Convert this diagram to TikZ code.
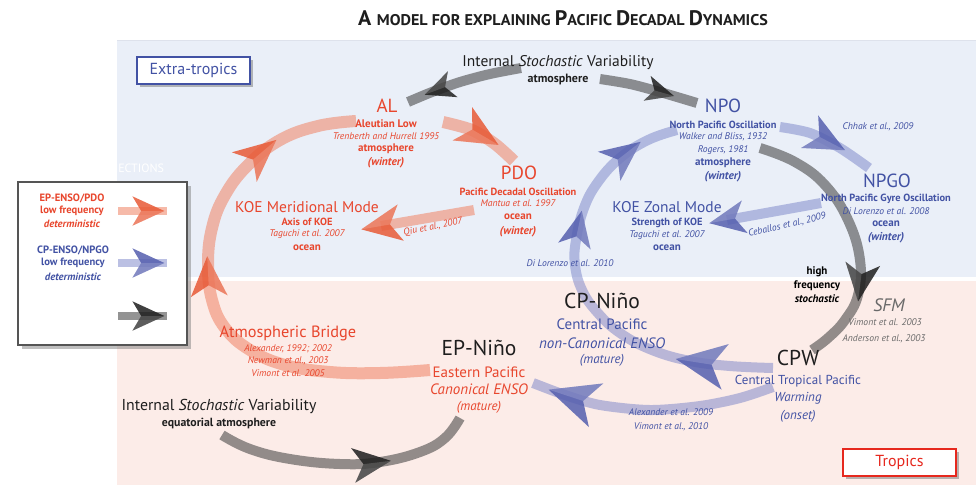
\documentclass[tikz,border=0pt]{standalone}
\usepackage{fontspec}
\setmainfont{PT Sans}
\usetikzlibrary{decorations.markings,shadows}
\newcommand{\fsz}[1]{\fontsize{#1}{#1}\selectfont}
\definecolor{etbg}{RGB}{234,239,248}
\definecolor{trbg}{RGB}{252,236,232}
\definecolor{redt}{RGB}{232,70,45}
\definecolor{bluet}{RGB}{66,82,164}
\definecolor{darkt}{RGB}{30,30,30}
\definecolor{grayt}{RGB}{105,105,105}
\definecolor{redarcc}{RGB}{240,130,100}
\definecolor{reddart}{RGB}{232,90,55}
\definecolor{bluearcc}{RGB}{120,130,200}
\definecolor{bluedart}{RGB}{85,95,175}
\definecolor{grayarcc}{RGB}{60,60,60}
\definecolor{graydart}{RGB}{30,30,30}
\tikzset{
  lbl/.style={inner sep=0pt, outer sep=0pt, anchor=center, align=center},
  rhead/.style={lbl, text=redt, font=\fsz{19}},
  bhead/.style={lbl, text=bluet, font=\fsz{19}},
  khead/.style={lbl, text=darkt, font=\fsz{21.5}},
  rsub/.style={lbl, text=redt, font=\fsz{10.4}\bfseries},
  bsub/.style={lbl, text=bluet, font=\fsz{10.4}\bfseries},
  rmed/.style={lbl, text=redt, font=\fsz{11}\bfseries},
  bmed/.style={lbl, text=bluet, font=\fsz{11}\bfseries},
  rref/.style={lbl, text=redt, font=\fsz{9.6}\itshape},
  bref/.style={lbl, text=bluet, font=\fsz{9.6}\itshape},
  gref/.style={lbl, text=grayt, font=\fsz{9.6}\itshape},
  rseas/.style={lbl, text=redt, font=\fsz{11.4}\bfseries\itshape},
  bseas/.style={lbl, text=bluet, font=\fsz{11.4}\bfseries\itshape},
  arcred/.style={draw=redarcc, draw opacity=0.55, line width=12pt},
  arcblue/.style={draw=bluearcc, draw opacity=0.5, line width=10pt},
  arcgray/.style={draw=grayarcc, draw opacity=0.55, line width=10pt},
  dart/.style n args={4}{postaction={decorate,decoration={markings,
     mark=at position #1 with {\fill[#2,fill opacity=0.85,scale=#3] (1,0)--(-1,0.92)--(-0.45,0)--(-1,-0.92)--cycle;
       \fill[white,fill opacity=0.16,scale=#3] (1,0)--(-1,0.92)--(-0.45,0)--cycle;}}}},
  tagbox/.style={lbl, fill=white, line width=2pt, minimum width=113pt, minimum height=27pt,
     drop shadow={shadow xshift=3pt, shadow yshift=-3pt, opacity=0.55}},
}
\begin{document}
\begin{tikzpicture}[x=1pt,y=-1pt]
\useasboundingbox (0,0) rectangle (979,485);
\fill[white] (0,0) rectangle (979,485);
% regions
\fill[etbg] (117,40) rectangle (976,277);
\draw[draw={rgb,255:red,222;green,226;blue,236}, line width=0.8pt] (117,40) -- (976,40);
\fill[trbg] (117,281) rectangle (976,485);
% title
\node[lbl, font=\bfseries, text=darkt] (title) at (563,18) {\scalebox{1.04}[1]{\fsz{21}A \fsz{15.5}MODEL FOR EXPLAINING \fsz{21}P\fsz{15.5}ACIFIC \fsz{21}D\fsz{15.5}ECADAL \fsz{21}D\fsz{15.5}YNAMICS}};
% faded header text behind legend
\node[lbl, anchor=east, text=white, font=\fsz{12}] (conn) at (164,168) {CONNECTIONS};

% ---------- arcs ----------
% red main loop: EP-Nino -> Atmospheric Bridge -> KOE -> AL
\coordinate (rl0) at (430,370);
\coordinate (rl1) at (356,121);
\draw[arcred, dart={0.53}{reddart}{20}{}, dart={0.80}{reddart}{21}{}]
  plot[smooth, tension=0.7] coordinates {(rl0) (380,373) (330,372) (285,365) (250,350) (225,328) (212,300) (208,265) (212,228) (225,195) (248,165) (280,140) (318,126) (rl1)};
% red AL -> PDO
\coordinate (rp0) at (443,122);
\coordinate (rp1) at (514,161);
\draw[arcred, dart={0.48}{reddart}{21}{}] plot[smooth] coordinates {(rp0) (472,130) (495,144) (rp1)};
% red PDO -> KOE meridional
\coordinate (rk0) at (474,210);
\coordinate (rk1) at (381,226);
\draw[arcred, line width=10pt, dart={1}{reddart}{20}{}] (rk0) -- (rk1);

% blue loop: CPW -> CP-Nino -> NPO
\coordinate (bl0) at (773,368);
\coordinate (bl1) at (677,130);
\draw[arcblue, dart={0.17}{bluedart}{25}{}, dart={0.655}{bluedart}{18}{}, dart={0.865}{bluedart}{20}{}]
  plot[smooth, tension=0.7] coordinates {(bl0) (730,366) (690,361) (652,350) (620,333) (597,312) (582,290) (575,265) (576,240) (584,208) (598,182) (620,158) (648,140) (bl1)};
% blue CPW -> EP-Nino
\coordinate (bb0) at (773,387);
\coordinate (bb1) at (533,383);
\draw[arcblue, dart={0.83}{bluedart}{25}{}] plot[smooth] coordinates {(bb0) (740,398) (700,406) (650,410) (600,405) (565,395) (bb1)};
% blue NPO -> NPGO
\coordinate (bn0) at (780,127);
\coordinate (bn1) at (869,168);
\draw[arcblue, dart={0.5}{bluedart}{20}{}] plot[smooth] coordinates {(bn0) (810,133) (840,148) (bn1)};
% blue NPGO -> KOE zonal
\coordinate (bz0) at (821,203);
\coordinate (bz1) at (727,220);
\draw[arcblue, dart={1}{bluedart}{18}{}] (bz0) -- (bz1);

% gray top: stochastic atmosphere -> AL and -> NPO
\coordinate (gl0) at (521,68);
\coordinate (gl1) at (408,102);
\draw[arcgray, dart={0.72}{graydart}{15}{}] plot[smooth] coordinates {(gl0) (490,74) (460,82) (432,92) (gl1)};
\coordinate (gr0) at (600,79);
\coordinate (gr1) at (697,103);
\draw[arcgray, dart={0.62}{graydart}{14}{}] plot[smooth] coordinates {(gr0) (630,84) (660,92) (gr1)};
% gray NPO -> SFM -> CPW
\coordinate (gs0) at (760,148);
\coordinate (gs1) at (812,350);
\draw[arcgray, dart={0.68}{graydart}{19}{}] plot[smooth, tension=0.7] coordinates {(gs0) (795,162) (825,185) (848,220) (860,260) (858,295) (845,320) (828,338) (gs1)};
% gray bottom: equatorial stochastic -> EP-Nino
\coordinate (gb0) at (222,435);
\coordinate (gb1) at (460,418);
\draw[arcgray, dart={0.6}{graydart}{19}{}] plot[smooth, tension=0.7] coordinates {(gb0) (250,449) (290,459) (340,464) (380,462) (420,452) (445,438) (gb1)};

% ---------- text ----------
% AL
\node[rhead] (al) at (387,106) {AL};
\node[rmed] (al1) at (386,124) {Aleutian Low};
\node[rref] (al2) at (386,136) {Trenberth and Hurrell 1995};
\node[rmed] (al3) at (386,149) {atmosphere};
\node[rseas] (al4) at (386,163) {(winter)};
% PDO
\node[rhead] (pdo) at (519,173) {PDO};
\node[rsub] (pdo1) at (518,192) {Pacific Decadal Oscillation};
\node[rref] (pdo2) at (518,203) {Mantua et al. 1997};
\node[rmed] (pdo3) at (518,217) {ocean};
\node[rseas] (pdo4) at (518,232) {(winter)};
% KOE meridional
\node[lbl, text=redt, font=\fsz{15.5}] (koem) at (307,207) {KOE Meridional Mode};
\node[rsub] (koem1) at (307,222) {Axis of KOE};
\node[rref] (koem2) at (307,234) {Taguchi et al. 2007};
\node[rmed] (koem3) at (307,248) {ocean};
\node[rref, rotate=12] (qiu) at (433,227) {Qiu et al., 2007};
% NPO
\node[bhead] (npo) at (723,106) {NPO};
\node[bsub] (npo1) at (723,125) {North Pacific Oscillation};
\node[bref] (npo2) at (723,137) {Walker and Bliss, 1932};
\node[bref] (npo3) at (723,150) {Rogers, 1981};
\node[bmed] (npo4) at (723,163) {atmosphere};
\node[bseas] (npo5) at (723,177) {(winter)};
\node[bref] (chhak) at (878,127) {Chhak et al., 2009};
% NPGO
\node[bhead] (npgo) at (887,181) {NPGO};
\node[bsub] (npgo1) at (886,199) {North Pacific Gyre Oscillation};
\node[bref] (npgo2) at (886,211) {Di Lorenzo et al. 2008};
\node[bmed] (npgo3) at (886,224) {ocean};
\node[bseas] (npgo4) at (886,238) {(winter)};
% KOE zonal
\node[lbl, text=bluet, font=\fsz{15.5}] (koez) at (667,207) {KOE Zonal Mode};
\node[bsub] (koez1) at (667,223) {Strength of KOE};
\node[bref] (koez2) at (667,235) {Taguchi et al. 2007};
\node[bmed] (koez3) at (667,248) {ocean};
\node[bref, rotate=13] (ceb) at (787,225) {Ceballos et al., 2009};
\node[bref] (dil) at (570,263) {Di Lorenzo et al. 2010};
% internal stochastic top
\node[lbl, text=darkt, font=\fsz{15.5}] (isv) at (558,63) {Internal \textit{Stochastic} Variability};
\node[lbl, text=darkt, font=\fsz{12}\bfseries] (isv1) at (558,79) {atmosphere};
% high frequency
\node[lbl, text=black, font=\fsz{11}\bfseries] (hf1) at (817,272) {high};
\node[lbl, text=black, font=\fsz{11}\bfseries] (hf2) at (817,286) {frequency};
\node[lbl, text=black, font=\fsz{11}\bfseries\itshape] (hf3) at (817,299) {stochastic};
% SFM
\node[lbl, text=grayt, font=\fsz{18}\itshape] (sfm) at (889,305) {SFM};
\node[gref] (sfm1) at (885,322) {Vimont et al. 2003};
\node[gref] (sfm2) at (884,339) {Anderson et al., 2003};
% CPW
\node[khead] (cpw) at (798,358) {CPW};
\node[lbl, text=bluet, font=\fsz{13}] (cpw1) at (798,381) {Central Tropical Pacific};
\node[lbl, text=bluet, font=\fsz{13}\itshape] (cpw2) at (798,398) {Warming};
\node[lbl, text=bluet, font=\fsz{13}\itshape] (cpw3) at (798,416) {(onset)};
% CP-Nino
\node[khead] (cpn) at (602,301) {CP-Niño};
\node[lbl, text=bluet, font=\fsz{15}] (cpn1) at (602,324) {Central Pacific};
\node[lbl, text=bluet, font=\fsz{15}\itshape] (cpn2) at (602,343) {non-Canonical ENSO};
\node[lbl, text=bluet, font=\fsz{13}\itshape] (cpn3) at (602,360) {(mature)};
% EP-Nino
\node[khead] (epn) at (479,348) {EP-Niño};
\node[lbl, text=redt, font=\fsz{15}] (epn1) at (479,372) {Eastern Pacific};
\node[lbl, text=redt, font=\fsz{15}\itshape] (epn2) at (479,389) {Canonical ENSO};
\node[lbl, text=redt, font=\fsz{13}\itshape] (epn3) at (479,407) {(mature)};
% Atmospheric bridge
\node[lbl, text=redt, font=\fsz{16.3}] (ab) at (288,333) {Atmospheric Bridge};
\node[rref] (ab1) at (288,349) {Alexander, 1992; 2002};
\node[rref] (ab2) at (288,361) {Newman et al., 2003};
\node[rref] (ab3) at (288,373) {Vimont et al. 2005};
% internal stochastic bottom
\node[lbl, text=darkt, font=\fsz{15.8}] (isb) at (219,406) {Internal \textit{Stochastic} Variability};
\node[lbl, text=darkt, font=\fsz{11.8}\bfseries] (isb1) at (219,423) {equatorial atmosphere};
% refs lower blue
\node[bref] (alx) at (671,412) {Alexander et al. 2009};
\node[bref] (vim) at (671,427) {Vimont et al., 2010};

% ---------- tag boxes ----------
\node[tagbox, draw=bluet, text=bluet, font=\fsz{16}] (et) at (193.5,70) {Extra-tropics};
\node[tagbox, draw={rgb,255:red,230;green,40;blue,30}, text={rgb,255:red,230;green,40;blue,30}, font=\fsz{16}] (tr) at (899.5,462.5) {Tropics};

% ---------- legend ----------
\node[lbl, draw={rgb,255:red,85;green,85;blue,85}, line width=2pt, fill=white, minimum width=169pt, minimum height=163pt,
   drop shadow={shadow xshift=4pt, shadow yshift=-4pt, opacity=0.5}] (leg) at (102,263.5) {};
\node[lbl, text=redt, font=\fsz{10.6}\bfseries] (lg1) at (72,198) {EP-ENSO/PDO};
\node[lbl, text=redt, font=\fsz{10.6}\bfseries] (lg2) at (72,211) {low frequency};
\node[lbl, text=redt, font=\fsz{10.6}\bfseries\itshape] (lg3) at (72,224) {deterministic};
\node[lbl, text=bluet, font=\fsz{10.6}\bfseries] (lg4) at (73,250) {CP-ENSO/NPGO};
\node[lbl, text=bluet, font=\fsz{10.6}\bfseries] (lg5) at (73,263) {low frequency};
\node[lbl, text=bluet, font=\fsz{10.6}\bfseries\itshape] (lg6) at (73,277) {deterministic};
\coordinate (la0) at (118,211); \coordinate (la1) at (167,211);
\coordinate (lb0) at (118,263); \coordinate (lb1) at (167,263);
\coordinate (lc0) at (118,316); \coordinate (lc1) at (167,316);
\draw[arcred, line width=8pt, dart={0.62}{reddart}{16}{}] (la0) -- (la1);
\draw[arcblue, line width=8pt, dart={0.62}{bluedart}{16}{}] (lb0) -- (lb1);
\draw[arcgray, line width=8pt, dart={0.62}{graydart}{16}{}] (lc0) -- (lc1);
\end{tikzpicture}
\end{document}
